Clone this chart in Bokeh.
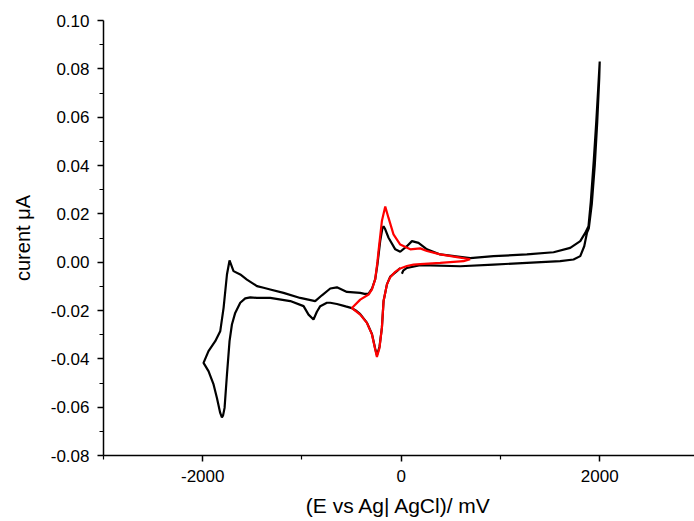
from bokeh.plotting import figure
from bokeh.models import FixedTicker, NumeralTickFormatter, Range1d
from bokeh.embed import file_html
from bokeh.resources import INLINE

# Black CV (wide window), in scan order: start near 0 mV, cathodic to -2000, anodic to +2000, back to ~0
black_E = [-10, -43, -111, -144, -178, -195, -219, -245, -262, -295, -346, -413, -450, -497,
           -560, -648, -715, -749, -816, -850, -884, -934, -984, -1118, -1320, -1454, -1521,
           -1572, -1622, -1673, -1706, -1730, -1756, -1780, -1795, -1807, -1824, -1857, -1891, -1942, -1992,
           -1942, -1874, -1824, -1790, -1756, -1730, -1690, -1622, -1555, -1454, -1387, -1320,
           -1186, -1018, -867, -799, -715, -648, -547, -413, -370, -329, -295, -262, -240, -212,
           -190, -178, -160, -128, -60, -10, 57, 108, 174, 259, 393, 695, 930, 1266, 1535, 1703,
           1804, 1854, 1887, 1910, 1940, 1965, 1985, 2000,
           1995, 1975, 1950, 1920, 1890, 1871, 1844, 1804, 1736, 1602, 1266, 930, 594, 191, 57, 20, 7]
black_I = [-0.0024, -0.0037, -0.0060, -0.0092, -0.0161, -0.0272, -0.0350, -0.0385, -0.0358, -0.0297,
           -0.0250, -0.0215, -0.0202, -0.0190,
           -0.0183, -0.0173, -0.0168, -0.0168, -0.0182, -0.0205, -0.0237, -0.0217, -0.0182, -0.0161,
           -0.0148, -0.0148, -0.0146,
           -0.0150, -0.0168, -0.0210, -0.0258, -0.0327, -0.0465, -0.0603, -0.0634, -0.0642, -0.0624, -0.0562,
           -0.0506, -0.0451, -0.0417,
           -0.0368, -0.0327, -0.0286, -0.0189, -0.0051, 0.0007, -0.0037, -0.0051, -0.0072, -0.0099,
           -0.0106, -0.0113,
           -0.0127, -0.0148, -0.0161, -0.0137, -0.0109, -0.0104, -0.0123, -0.0127, -0.0131, -0.0130,
           -0.0110, -0.0070, -0.0010, 0.0087,
           0.0140, 0.0149, 0.0135, 0.0101, 0.0053, 0.0043, 0.0066, 0.0087, 0.0080, 0.0053, 0.0032,
           0.0017, 0.0025, 0.0032, 0.0041, 0.0059,
           0.0087, 0.0121, 0.0149, 0.0250, 0.0420, 0.0580, 0.0720, 0.0830,
           0.0760, 0.0580, 0.0400, 0.0240, 0.0140, 0.0121, 0.0066, 0.0025, 0.0011, 0.0004, -0.0003,
           -0.0010, -0.0017, -0.0012, -0.0024, -0.0035, -0.0048]

# Red CV (narrow window)
red_E = [695, 628, 393, 191, 124, 57, -10, -60, -111, -144, -178, -195, -219, -245, -262, -295,
         -346, -413, -497,
         -413, -329, -295, -262, -239, -229, -195, -161, -128, -78, -10, 91, 191, 259, 393, 561, 695]
red_I = [0.0012, 0.0004, -0.0003, -0.0008, -0.0010, -0.0016, -0.0026, -0.0040, -0.0062, -0.0092,
         -0.0161, -0.0272, -0.0355, -0.0392, -0.0361, -0.0299, -0.0251, -0.0217, -0.0190,
         -0.0155, -0.0134, -0.0113, -0.0070, 0.0004, 0.0046, 0.0170, 0.0230, 0.0183, 0.0115,
         0.0073, 0.0053, 0.0057, 0.0046, 0.0032, 0.0021, 0.0012]

x_major = [-2000, 0, 2000]
x_minor = [-3000, -1000, 1000, 3000]
y_major = [-0.08, -0.06, -0.04, -0.02, 0.00, 0.02, 0.04, 0.06, 0.08, 0.10]
y_minor = [-0.07, -0.05, -0.03, -0.01, 0.01, 0.03, 0.05, 0.07, 0.09]

FONT = "Liberation Sans"

p = figure(width=694, height=521, output_backend="svg", toolbar_location=None,
           x_range=Range1d(-3000, 2955), y_range=Range1d(-0.08, 0.10),
           min_border_left=103, min_border_right=0, min_border_top=20, min_border_bottom=66)
p.outline_line_color = None
p.xgrid.visible = False
p.ygrid.visible = False
p.background_fill_color = "white"
p.border_fill_color = "white"

p.line(black_E, black_I, line_color="black", line_width=2.2)
p.line(red_E, red_I, line_color="#ff0000", line_width=2.2)

p.xaxis.ticker = FixedTicker(ticks=x_major, minor_ticks=x_minor)
p.yaxis.ticker = FixedTicker(ticks=y_major, minor_ticks=y_minor)
p.yaxis.formatter = NumeralTickFormatter(format="0.00")
p.xaxis.formatter = NumeralTickFormatter(format="0")

for ax in (p.xaxis, p.yaxis):
    ax.axis_line_color = "black"
    ax.axis_line_width = 1.5
    ax.major_tick_line_color = "black"
    ax.minor_tick_line_color = "black"
    ax.major_tick_line_width = 1.5
    ax.minor_tick_line_width = 1.2
    ax.major_tick_in = 0
    ax.major_tick_out = 6
    ax.minor_tick_in = 0
    ax.minor_tick_out = 4
    ax.major_label_text_font = FONT
    ax.major_label_text_font_size = "17px"
    ax.major_label_text_color = "black"
    ax.axis_label_text_font = FONT
    ax.axis_label_text_font_style = "normal"
    ax.axis_label_text_color = "black"

p.xaxis.axis_label_text_font_size = "21px"
p.yaxis.axis_label_text_font_size = "20px"
p.xaxis.axis_label = "(E vs Ag| AgCl)/ mV"
p.yaxis.axis_label = "curent \u03bcA"
p.yaxis.major_label_standoff = 8
p.xaxis.major_label_standoff = 8
p.yaxis.axis_label_standoff = 14
p.xaxis.axis_label_standoff = 9

open("out.html", "w").write(file_html(p, INLINE))
